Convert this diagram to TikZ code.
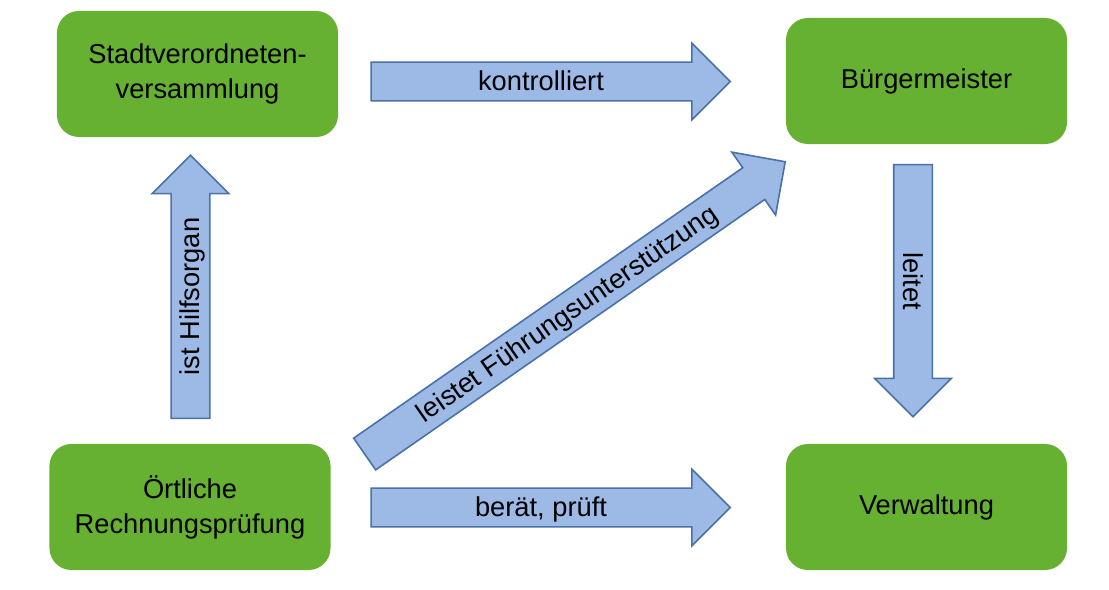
\documentclass[tikz,border=0pt]{standalone}
\usepackage{fontspec}
\setmainfont{Liberation Sans}
\usepackage{xcolor}
\usetikzlibrary{shapes,shapes.arrows,positioning,calc}

\definecolor{boxgreen}{HTML}{66B032}
\definecolor{arrowfill}{HTML}{9DB9E5}
\definecolor{arrowline}{HTML}{4A72A8}

\begin{document}
\begin{tikzpicture}[x=0.025cm,y=-0.025cm,
font=\fontsize{19.4}{25}\selectfont]

\tikzstyle{organ}=[rectangle, rounded corners=0.55cm, minimum width=7.025cm, minimum height=3.15cm,
fill=boxgreen, draw=none, text=black, align=center]
\tikzstyle{blockarrow}=[single arrow, single arrow head extend=0.475cm, fill=arrowfill,
draw=arrowline, line width=0.4mm, inner xsep=0pt, inner ysep=0pt,
text height=0.69cm, text depth=0.235cm, text=black]

\useasboundingbox (0,0) rectangle (1109,590);

%organs
\node[organ] (svv) at (197.5,74) {Stadtverordneten-\\versammlung};
\node[organ] (bm) at (926.5,81) {Bürgermeister};
\node[organ] (rp) at (190,507) {Örtliche\\Rechnungsprüfung};
\node[organ] (vw) at (926.5,507) {Verwaltung};

%relations
\node[blockarrow, minimum height=8.975cm] (kontr) at (541,81.5) {kontrolliert};
\node[blockarrow, minimum height=8.975cm] (berat) at (541,507.5) {berät, prüft};
\node[blockarrow, minimum height=6.575cm, rotate=90] (hilf) at (190.5,296.5) {ist Hilfsorgan};
\node[blockarrow, minimum height=6.3cm, rotate=-90] (leit) at (913,281) {leitet};
\node[blockarrow, minimum height=12.8cm, rotate=34.8] (fuehr) at (567,313.4) {leistet Führungsunterstützung};

\end{tikzpicture}
\end{document}
